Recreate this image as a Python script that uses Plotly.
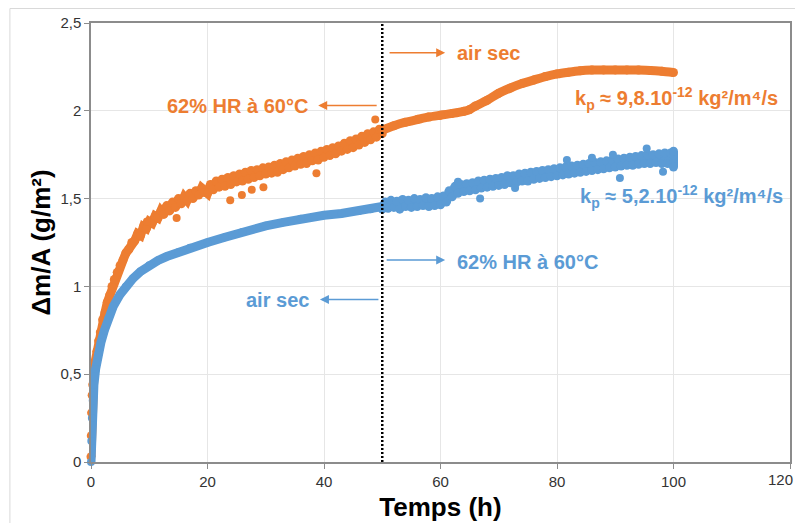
import plotly.graph_objects as go

ORANGE = "#ED7D31"
BLUE = "#5B9BD5"

# ---- Orange sample: 62% HR à 60°C (0-50 h, noisy) then air sec (50-100 h) ----
orange_humid_t = [0, 0.05, 0.1, 0.2, 0.3, 0.5, 0.7, 1.0, 1.3, 1.6, 2.0, 2.4, 2.8, 3.2, 3.6,
                  4.0, 4.5, 5.0, 5.5, 6.0, 6.5, 7.0, 7.5, 8.0, 8.5, 9.0, 9.5, 10.0, 10.5,
                  11.0, 11.5, 12.0, 12.5, 13.0, 13.5, 14.0, 14.5, 15.0, 15.5, 16.0, 16.5,
                  17.0, 17.5, 18.0, 18.5, 19.0, 19.5,
                  20, 20.5, 21, 21.5, 22, 22.5, 23, 23.5, 24, 24.5, 25, 25.5, 26, 26.5,
                  27, 27.5, 28, 28.5, 29, 29.5, 30, 30.5, 31, 31.5, 32, 32.5, 33, 33.5,
                  34, 34.5, 35, 35.5, 36, 36.5, 37, 37.5, 38, 38.5, 39, 39.5, 40, 40.5,
                  41, 41.5, 42, 42.5, 43, 43.5, 44, 44.5, 45, 45.5, 46, 46.5, 47, 47.5,
                  48, 48.5, 49, 49.5, 50]
orange_humid_m = [0.03, 0.15, 0.28, 0.38, 0.44, 0.50, 0.57, 0.63, 0.69, 0.74, 0.81, 0.85, 0.91, 0.95, 1.0,
                  1.04, 1.08, 1.12, 1.15, 1.19, 1.21, 1.25, 1.26, 1.30, 1.29, 1.34, 1.33, 1.37, 1.36,
                  1.40, 1.39, 1.43, 1.41, 1.46, 1.43, 1.48, 1.45, 1.50, 1.47, 1.51, 1.49,
                  1.53, 1.50, 1.545, 1.52, 1.56, 1.535,
                  1.53, 1.58, 1.55, 1.60, 1.565, 1.61, 1.57, 1.62, 1.58, 1.63, 1.595, 1.64, 1.60, 1.65,
                  1.61, 1.66, 1.62, 1.665, 1.63, 1.675, 1.64, 1.68, 1.645, 1.69, 1.65, 1.70, 1.665, 1.71,
                  1.675, 1.72, 1.685, 1.73, 1.695, 1.74, 1.70, 1.75, 1.715, 1.76, 1.72, 1.77, 1.735, 1.78,
                  1.745, 1.79, 1.755, 1.80, 1.77, 1.815, 1.78, 1.83, 1.79, 1.84, 1.805, 1.855, 1.82, 1.87,
                  1.835, 1.88, 1.85, 1.895, 1.87]
orange_outlier_t = [9.6, 14.7, 23.9, 25.9, 27.6, 29.6, 38.7, 48.8]
orange_outlier_m = [1.37, 1.39, 1.49, 1.52, 1.55, 1.565, 1.645, 1.95]
orange_dry_t = [50, 52, 54, 56, 58, 60, 62, 64, 65, 66, 68, 70, 72, 74, 76, 78, 80, 82, 84,
                86, 88, 90, 92, 94, 96, 98, 100]
orange_dry_m = [1.89, 1.915, 1.935, 1.95, 1.965, 1.975, 1.985, 1.997, 2.007, 2.027, 2.06, 2.10,
                2.13, 2.155, 2.175, 2.195, 2.21, 2.22, 2.228, 2.232, 2.233, 2.233, 2.233, 2.232,
                2.23, 2.225, 2.218]

# ---- Blue sample: air sec (0-50 h) then 62% HR à 60°C (50-100 h, noisy) ----
blue_dry_t = [0, 0.05, 0.15, 0.3, 0.5, 0.8, 1.2, 1.7, 2.3, 3, 3.8, 5, 6, 7.2, 8.5, 10, 11.5,
              13, 15, 17, 20, 23, 26, 30, 33, 36, 40, 43, 46, 48, 50]
blue_dry_m = [0, 0.12, 0.25, 0.35, 0.44, 0.53, 0.61, 0.68, 0.75, 0.82, 0.885, 0.955, 1.0, 1.045,
              1.085, 1.12, 1.148, 1.17, 1.195, 1.22, 1.25, 1.28, 1.31, 1.345, 1.365, 1.385, 1.405,
              1.415, 1.43, 1.44, 1.455]
blue_humid_t = [50, 50.5, 51, 51.5, 52, 52.5, 53, 53.5, 54, 54.5, 55, 55.5, 56, 56.5, 57, 57.5,
                58, 58.5, 59, 59.5, 60, 60.5, 61, 61.5, 62, 62.5, 63, 63.5, 64, 64.5, 65, 65.5,
                66, 66.5, 67, 67.5, 68, 68.5, 69, 69.5, 70, 70.5, 71, 71.5, 72, 72.5, 73, 73.5,
                74, 74.5, 75, 75.5, 76, 76.5, 77, 77.5, 78, 78.5, 79, 79.5, 80, 80.5, 81, 81.5,
                82, 82.5, 83, 83.5, 84, 84.5, 85, 85.5, 86, 86.5, 87, 87.5, 88, 88.5, 89, 89.5,
                90, 90.5, 91, 91.5, 92, 92.5, 93, 93.5, 94, 94.5, 95, 95.5, 96, 96.5, 97, 97.5,
                98, 98.5, 99, 99.5, 100, 100, 100, 100]
blue_humid_m = [1.44, 1.48, 1.445, 1.49, 1.45, 1.485, 1.44, 1.495, 1.455, 1.49, 1.45, 1.50, 1.455,
                1.495, 1.46, 1.505, 1.455, 1.50, 1.46, 1.51, 1.465, 1.515, 1.48, 1.545, 1.51, 1.57,
                1.53, 1.58, 1.54, 1.585, 1.545, 1.59, 1.55, 1.60, 1.56, 1.605, 1.565, 1.61, 1.57,
                1.615, 1.575, 1.62, 1.58, 1.63, 1.59, 1.63, 1.59, 1.64, 1.60, 1.645, 1.60, 1.65,
                1.61, 1.655, 1.615, 1.66, 1.62, 1.665, 1.625, 1.67, 1.63, 1.675, 1.635, 1.68, 1.64,
                1.685, 1.645, 1.69, 1.65, 1.695, 1.655, 1.70, 1.66, 1.705, 1.665, 1.71, 1.67, 1.715,
                1.675, 1.72, 1.68, 1.725, 1.685, 1.73, 1.69, 1.735, 1.69, 1.74, 1.695, 1.745, 1.70,
                1.75, 1.70, 1.75, 1.705, 1.755, 1.70, 1.76, 1.70, 1.76, 1.70, 1.68, 1.75, 1.77]
blue_outlier_t = [63, 66.8, 72.8, 81.7, 86, 89.6, 90.8, 95.4, 98.2]
blue_outlier_m = [1.596, 1.50, 1.56, 1.72, 1.733, 1.75, 1.617, 1.786, 1.653]

x_ticks = [0, 20, 40, 60, 80, 100, 120]
x_tick_labels = ["0", "20", "40", "60", "80", "100", "120"]
y_ticks = [0, 0.5, 1, 1.5, 2, 2.5]
y_tick_labels = ["0", "0,5", "1", "1,5", "2", "2,5"]
switch_time = 50

FONT = "Arial, 'Liberation Sans', sans-serif"

fig = go.Figure()

fig.add_trace(go.Scatter(x=orange_humid_t, y=orange_humid_m, mode="lines+markers",
                         line=dict(color=ORANGE, width=9), marker=dict(color=ORANGE, size=9),
                         cliponaxis=False, hoverinfo="skip"))
fig.add_trace(go.Scatter(x=orange_outlier_t, y=orange_outlier_m, mode="markers",
                         marker=dict(color=ORANGE, size=8), hoverinfo="skip"))
fig.add_trace(go.Scatter(x=orange_dry_t, y=orange_dry_m, mode="lines+markers",
                         line=dict(color=ORANGE, width=9, shape="spline", smoothing=0.6),
                         marker=dict(color=ORANGE, size=9), hoverinfo="skip"))
fig.add_trace(go.Scatter(x=blue_dry_t, y=blue_dry_m, mode="lines+markers",
                         line=dict(color=BLUE, width=9), marker=dict(color=BLUE, size=8),
                         cliponaxis=False, hoverinfo="skip"))
fig.add_trace(go.Scatter(x=blue_humid_t, y=blue_humid_m, mode="lines+markers",
                         line=dict(color=BLUE, width=9), marker=dict(color=BLUE, size=9),
                         hoverinfo="skip"))
fig.add_trace(go.Scatter(x=blue_outlier_t, y=blue_outlier_m, mode="markers",
                         marker=dict(color=BLUE, size=8), hoverinfo="skip"))

# dotted switch line
fig.add_shape(type="line", x0=switch_time, x1=switch_time, y0=0, y1=2.5, xref="x", yref="y",
              line=dict(color="black", width=2.5, dash="2px,2px"))

# outer light frame (top + left)
fig.add_shape(type="line", xref="paper", yref="paper", x0=-0.116, x1=1.03, y0=1.033, y1=1.033,
              line=dict(color="#d9d9d9", width=1))
fig.add_shape(type="line", xref="paper", yref="paper", x0=-0.116, x1=-0.116, y0=-0.2, y1=1.033,
              line=dict(color="#d9d9d9", width=1))

def label(text, x, y, color, anchor):
    fig.add_annotation(x=x, y=y, xref="x", yref="y", text=text, showarrow=False,
                       xanchor=anchor, yanchor="middle",
                       font=dict(family=FONT, size=20, color=color, weight="bold"))

def arrow(x_head, x_tail, y, color):
    fig.add_annotation(x=x_head, y=y, ax=x_tail, ay=y, xref="x", yref="y", axref="x", ayref="y",
                       text="", showarrow=True, arrowhead=2, arrowsize=1.2, arrowwidth=1.5,
                       arrowcolor=color, standoff=0, startstandoff=0)

label("air sec", 62.5, 2.33, ORANGE, "left")
arrow(60.8, 51.0, 2.33, ORANGE)
label("62% HR à 60°C", 37.6, 2.03, ORANGE, "right")
arrow(39.0, 49.3, 2.03, ORANGE)
label("k<sub>p</sub> ≈ 9,8.10<sup>-12</sup> kg²/m⁴/s", 82.7, 2.07, ORANGE, "left")
label("k<sub>p</sub> ≈ 5,2.10<sup>-12</sup> kg²/m⁴/s", 83.6, 1.51, BLUE, "left")
label("62% HR à 60°C", 62.5, 1.14, BLUE, "left")
arrow(60.8, 50.5, 1.15, BLUE)
label("air sec", 37.8, 0.92, BLUE, "right")
arrow(39.3, 49.6, 0.925, BLUE)

# last x tick label drawn right-aligned so it stays inside the window
fig.add_annotation(x=x_ticks[-1], y=0, xref="x", yref="y", text=x_tick_labels[-1], showarrow=False,
                   xanchor="right", yanchor="top", xshift=5, yshift=-7,
                   font=dict(family=FONT, size=15, color="#333333"))

axis_common = dict(showline=True, mirror=True, linecolor="#8c8c8c", linewidth=1.5,
                   showgrid=True, gridcolor="#e6e6e6", gridwidth=1, zeroline=False,
                   ticks="outside", ticklen=5, tickcolor="#8c8c8c", automargin=False,
                   tickfont=dict(family=FONT, size=15, color="#333333"))

fig.update_xaxes(range=[0, 120], tickvals=x_ticks, ticktext=x_tick_labels[:-1] + [""],
                 title=dict(text="Temps (h)", font=dict(family=FONT, size=26, color="black", weight="bold"),
                            standoff=9),
                 **axis_common)
fig.update_yaxes(range=[0, 2.5], tickvals=y_ticks, ticktext=y_tick_labels,
                 title=dict(text="Δm/A (g/m²)", font=dict(family=FONT, size=26, color="black", weight="bold"),
                            standoff=2),
                 **axis_common)

# page body has an 8px default margin: figure sized/margined so the plot area lands where it should
# and the page does not overflow the window
fig.update_layout(width=795, height=515, margin=dict(l=83, r=13, t=15, b=61),
                  paper_bgcolor="white", plot_bgcolor="white", showlegend=False,
                  separators=", ")

fig.write_html("out.html")
